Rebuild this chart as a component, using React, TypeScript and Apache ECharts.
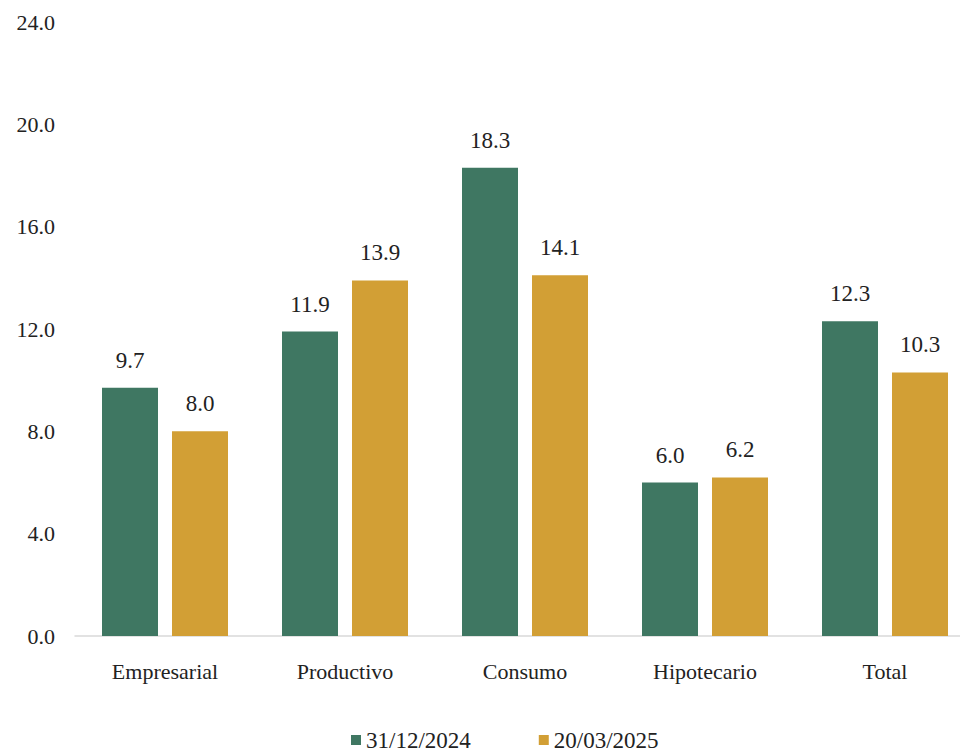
import React, { useEffect, useRef } from "react";
import * as echarts from "echarts";

const categories = ["Empresarial", "Productivo", "Consumo", "Hipotecario", "Total"];
const seriesNames = ["31/12/2024", "20/03/2025"];
const values2024 = [9.7, 11.9, 18.3, 6.0, 12.3];
const values2025 = [8.0, 13.9, 14.1, 6.2, 10.3];
const colors = ["#3f7762", "#d29f35"];

const FONT = "Liberation Serif";

export default function App() {
  const ref = useRef<HTMLDivElement>(null);
  useEffect(() => {
    if (!ref.current) return;
    const chart = echarts.init(ref.current, null, { renderer: "svg" });
    const label = {
      show: true,
      position: "top",
      distance: 16,
      fontFamily: FONT,
      fontSize: 23,
      color: "#222",
      formatter: (p: any) => Number(p.value).toFixed(1),
    };
    chart.setOption({
      animation: false,
      backgroundColor: "#ffffff",
      textStyle: { fontFamily: FONT },
      grid: { left: 75, right: 0, top: 22, bottom: 117, containLabel: false },
      legend: {
        data: seriesNames,
        left: 346,
        top: 723,
        icon: "rect",
        itemWidth: 10,
        itemHeight: 10,
        itemGap: 68,
        textStyle: { fontFamily: FONT, fontSize: 23, color: "#222", lineHeight: 24 },
      },
      xAxis: {
        type: "category",
        data: categories,
        axisLine: { show: true, lineStyle: { color: "#d9d9d9", width: 1.5 } },
        axisTick: { show: false },
        axisLabel: { fontFamily: FONT, fontSize: 22, color: "#222", margin: 24 },
      },
      yAxis: {
        type: "value",
        min: 0,
        max: 24,
        interval: 4,
        splitLine: { show: false },
        axisLine: { show: false },
        axisTick: { show: false },
        axisLabel: {
          fontFamily: FONT,
          fontSize: 22,
          color: "#222",
          margin: 20,
          formatter: (v: number) => v.toFixed(1),
        },
      },
      series: [
        {
          name: seriesNames[0],
          type: "bar",
          data: values2024,
          barWidth: 56,
          barGap: "25%",
          itemStyle: { color: colors[0] },
          label,
        },
        {
          name: seriesNames[1],
          type: "bar",
          data: values2025,
          barWidth: 56,
          barGap: "25%",
          itemStyle: { color: colors[1] },
          label,
        },
      ],
    });
    return () => chart.dispose();
  }, []);
  return (
    <div
      style={{
        position: "fixed",
        left: 0,
        top: 0,
        width: 960,
        height: 753,
        overflow: "hidden",
        background: "#fff",
      }}
    >
      <div ref={ref} style={{ width: 975, height: 753 }} />
    </div>
  );
}
